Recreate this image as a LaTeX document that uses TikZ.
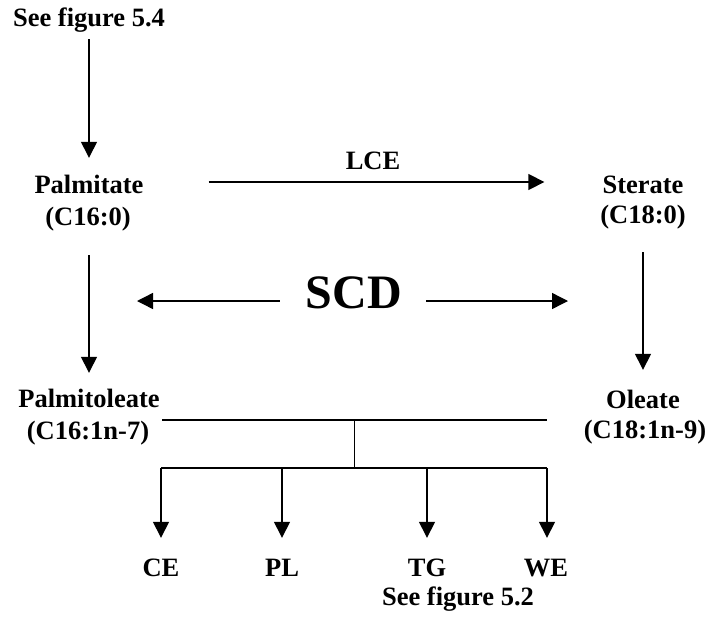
\documentclass[tikz,border=0pt]{standalone}
\usepackage{fontspec}
\setmainfont{Liberation Serif}
\usetikzlibrary{arrows.meta}

\begin{document}
\begin{tikzpicture}[x=1pt,y=-1pt,
  lbl/.style={font=\fontsize{26.5}{30}\selectfont\bfseries, inner sep=0pt,
              text height=18pt, text depth=6pt, anchor=base},
  big/.style={font=\fontsize{48}{50}\selectfont\bfseries, inner sep=0pt, anchor=base},
  link/.style={line width=1.4pt},
  arr/.style={link, -{Triangle[length=16pt,width=16pt]}}]
  \useasboundingbox (0,0) rectangle (708,618);

  % compounds and references
  \node[lbl] (see54) at (89,27)  {See figure 5.4};
  \node[lbl] (palm)  at (89,193) {Palmitate};
  \node[lbl] (c160)  at (88,225) {(C16:0)};
  \node[lbl] (ster)  at (643,193) {Sterate};
  \node[lbl] (c180)  at (643,223) {(C18:0)};
  \node[lbl] (pole)  at (89,407) {Palmitoleate};
  \node[lbl] (c161)  at (88,439) {(C16:1n-7)};
  \node[lbl] (ole)   at (643,408) {Oleate};
  \node[lbl] (c181)  at (645,438) {(C18:1n-9)};
  \node[big] (scd)   at (354,308) {SCD};

  % lipid classes
  \node[lbl] (ce) at (161,576) {CE};
  \node[lbl] (pl) at (282,576) {PL};
  \node[lbl] (tg) at (427,576) {TG};
  \node[lbl] (we) at (546,576) {WE};
  \node[lbl] (see52) at (458,605) {See figure 5.2};

  % free ends of the connectors
  \coordinate (scdL) at (137,301);
  \coordinate (scdR) at (568,301);
  \coordinate (busL) at (162,420);
  \coordinate (busR) at (547,420);
  \coordinate (busM) at (354,420);
  \coordinate (busB) at (354,468);
  \coordinate (busBL) at (161,468);
  \coordinate (busBR) at (547,468);

  % pathway arrows
  \draw[arr, shorten <=6pt, shorten >=17pt] (see54.south) -- (see54.south |- palm.north);
  \draw[arr, shorten <=65pt, shorten >=58pt] ([yshift=5pt]palm.east) -- ([yshift=5pt]ster.west)
     node[midway, lbl, above=6pt] (lce) {LCE};
  \draw[arr, shorten <=24pt, shorten >=16pt] (pole.north |- c160.south) -- (pole.north);
  \draw[arr, shorten <=23pt, shorten >=20pt] (ole.north |- c180.south) -- (ole.north);
  \draw[arr, shorten <=26pt] (scd.west |- scdL) -- (scdL);
  \draw[arr, shorten <=24pt] (scd.east |- scdR) -- (scdR);

  % distribution into lipid classes
  \draw[link] (busL) -- (busR);
  \draw[line width=1pt] (busM) -- (busB);
  \draw[link] (busBL) -- (busBR);
  \draw[arr, shorten >=20pt] (ce |- busBL) -- (ce.north);
  \draw[arr, shorten >=20pt] (pl |- busBL) -- (pl.north);
  \draw[arr, shorten >=20pt] (tg |- busBL) -- (tg.north);
  \draw[arr, shorten >=20pt] (busBR) -- (busBR |- we.north);
\end{tikzpicture}
\end{document}
